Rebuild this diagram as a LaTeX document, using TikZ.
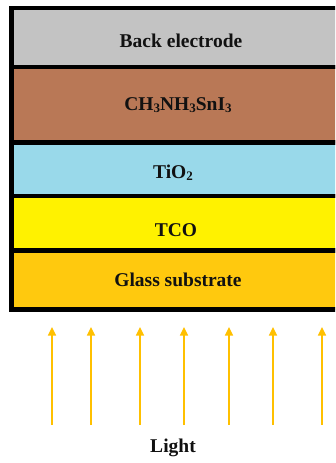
\documentclass[tikz,border=0pt]{standalone}
\usepackage{fontspec}
\setmainfont{Liberation Serif}
\usetikzlibrary{arrows.meta}
\definecolor{backgray}{HTML}{C3C3C3}
\definecolor{perovbrown}{HTML}{B97856}
\definecolor{tioblue}{HTML}{99D9EA}
\definecolor{tcoyellow}{HTML}{FFF200}
\definecolor{glassorange}{HTML}{FFC90E}
\definecolor{lightray}{HTML}{FFC000}
\definecolor{inkblack}{HTML}{111111}
% small lowered index digit
\newcommand{\idx}[1]{\raisebox{-2pt}{\fontsize{13}{13}\selectfont #1}}
\tikzset{
  layer/.style={draw=black, line width=4.6pt, inner sep=0pt, outer sep=0pt},
  lbl/.style={font=\bfseries\fontsize{19.5}{22}\selectfont, text=inkblack, inner sep=0pt},
  ray/.style={draw=lightray, line width=1.3pt, -{Triangle[length=8.5pt,width=8pt]}}
}
\begin{document}
\begin{tikzpicture}[x=1pt,y=-1pt]
\useasboundingbox (0,0) rectangle (335,463);
\clip (0,0) rectangle (335,463);
\fill[white] (0,0) rectangle (335,463);
% layer stack, top to bottom
\path[layer, fill=backgray]    (11.5,8)     rectangle (351,67);
\path[layer, fill=perovbrown]  (11.5,67)    rectangle (351,142.5);
\path[layer, fill=tioblue]     (11.5,142.5) rectangle (351,196);
\path[layer, fill=tcoyellow]   (11.5,196)   rectangle (351,250.5);
\path[layer, fill=glassorange] (11.5,250.5) rectangle (351,309.5);
% layer names
\node[lbl] (back)  at (181,41)  {Back electrode};
\node[lbl] (perov) at (178,105) {CH\idx{3}NH\idx{3}SnI\idx{3}};
\node[lbl] (tio)   at (173,173) {TiO\idx{2}};
\node[lbl] (tco)   at (176,230) {TCO};
\node[lbl] (glass) at (178,280) {Glass substrate};
% incoming light
\foreach \i/\x in {1/52,2/91,3/140,4/184,5/229,6/273,7/322}{
  \coordinate (s\i) at (\x,425);
  \coordinate (t\i) at (\x,327);
  \draw[ray] (s\i) -- (t\i);
}
\node[lbl] (light) at (173,448) {Light};
\end{tikzpicture}
\end{document}
